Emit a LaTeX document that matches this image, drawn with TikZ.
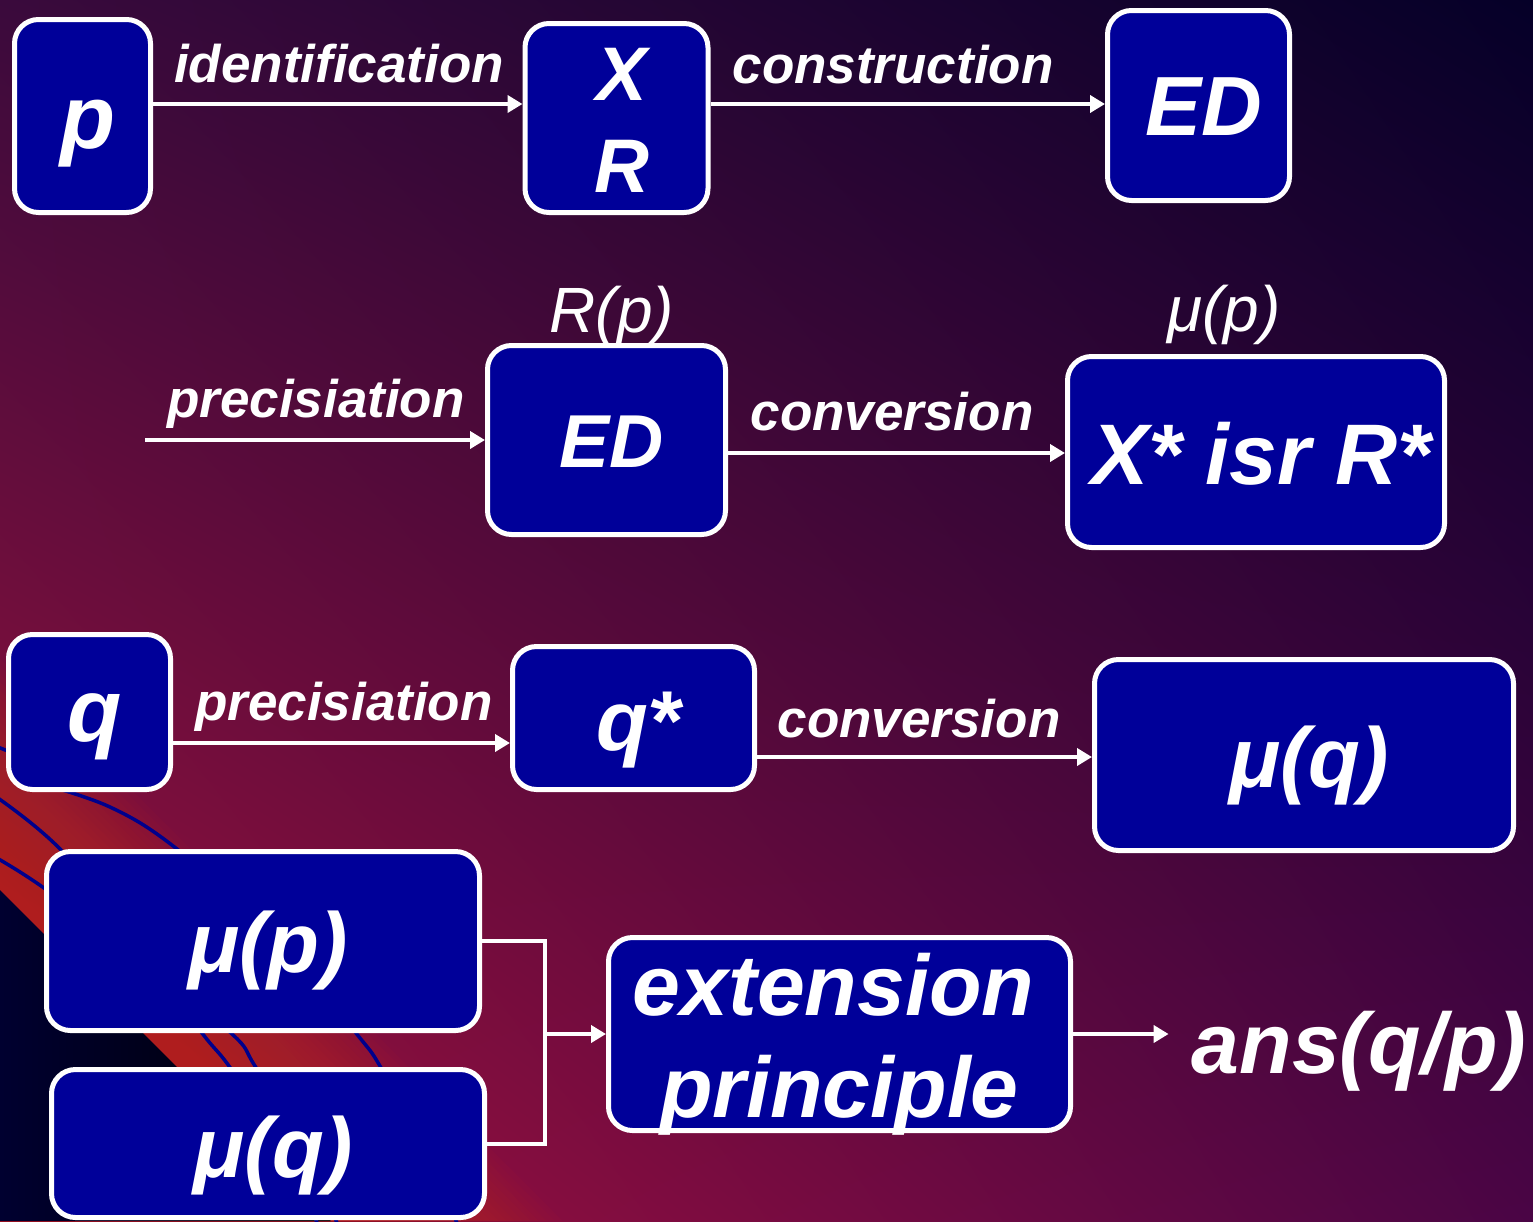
\documentclass[tikz,border=0pt]{standalone}
\usepackage{fontspec}
\setmainfont{Liberation Sans}
\usetikzlibrary{arrows.meta,shadings}
\definecolor{boxblue}{HTML}{000099}
\definecolor{bgTL}{HTML}{3A0A3C}
\definecolor{bgTR}{HTML}{050028}
\definecolor{bgBL}{HTML}{A8123C}
\definecolor{bgBR}{HTML}{4A0545}
\definecolor{bandc}{HTML}{C2301E}
\definecolor{swoosh}{HTML}{00008C}
\definecolor{cornerc}{HTML}{000030}
\newcommand\fsz[1]{\fontsize{#1}{#1}\selectfont}
\newcommand\rz[2]{\raisebox{#1pt}[0pt][0pt]{\kern5pt #2\kern-5pt}}
\begin{document}
\begin{tikzpicture}[x=1pt,y=-1pt,
  box/.style={draw=white, line width=5pt, fill=boxblue, rounded corners=24pt,
    inner sep=0pt, text=white, font=\bfseries\itshape},
  lbl/.style={text=white, inner sep=0pt, font=\bfseries\itshape\fsz{53}},
  sublbl/.style={text=white, inner sep=0pt, font=\itshape\fsz{64}},
  arr/.style={draw=white, line width=4pt, -{Triangle[length=15pt,width=17pt]}},
  wire/.style={draw=white, line width=4pt},
  swl/.style={draw=swoosh, line width=3.5pt, line cap=round}]
\useasboundingbox (0,0) rectangle (1533,1221);
% background
\shade[upper left=bgTL, upper right=bgTR, lower left=bgBL, lower right=bgBR] (0,0) rectangle (1533,1221);
\begin{scope}
\clip (0,0) rectangle (1533,1221);
\foreach \d in {0,8,...,232} {
  \fill[bandc, opacity=0.05] (0,890-\d) -- (331+\d,1221) -- (0,1221) -- cycle;
}
\shade[left color=cornerc, right color=black] (0,890) -- (331,1221) -- (0,1221) -- cycle;
\draw[swl] plot[smooth, tension=0.6] coordinates {(-5,796) (62,851) (140,950) (202,1033) (229,1066) (280,1140) (320,1230)};
\draw[swl] plot[smooth, tension=0.6] coordinates {(-5,857) (44,888) (140,960) (231,1033) (255,1066) (300,1140) (340,1230)};
\draw[swl] plot[smooth, tension=0.6] coordinates {(35,782) (110,807) (177,849) (280,940) (356,1033) (380,1066) (420,1140) (460,1230)};
\draw[swl] plot[smooth, tension=0.6] coordinates {(-5,746) (15,754) (40,766)};
\end{scope}
% row 1
\node[box, minimum width=136pt, minimum height=193pt] (bp) at (82.5,116) {\fsz{90}\rz{-32}{p}};
\node[box, minimum width=183pt, minimum height=189pt] (bxr) at (616.5,118)
  {\fontsize{76}{92}\selectfont\rz{18}{\begin{tabular}[t]{@{}c@{}}X\\R\end{tabular}}};
\node[box, minimum width=182pt, minimum height=190pt] (bed1) at (1198.5,105.5) {\fsz{84}\rz{-29.5}{ED}};
\node[lbl, anchor=base] (lid) at (339,82) {identification};
\node[lbl, anchor=base] (lcon) at (893,83) {construction};
\draw[arr] (bp.east |- 0,104) -- (bxr.west |- 0,104);
\draw[arr] (bxr.east |- 0,104) -- (bed1.west |- 0,104);
% row 2
\coordinate (ps) at (145,440);
\node[box, minimum width=238pt, minimum height=189pt] (bed2) at (606.5,440) {\fsz{75}\rz{-27}{ED}};
\node[box, minimum width=377pt, minimum height=191pt] (bxs) at (1256,452) {\fsz{86}\rz{-32}{X* isr R*}};
\node[sublbl, anchor=base] (lrp) at (612,332) {R(p)};
\node[sublbl, anchor=base] (lmp) at (1224,331) {μ(p)};
\node[lbl, anchor=base] (lpr1) at (316,417) {precisiation};
\node[lbl, anchor=base] (lcv1) at (892,430) {conversion};
\draw[arr] (ps) -- (bed2.west);
\draw[arr] (bed2.east |- 0,453) -- (bxs.west |- 0,453);
% row 3
\node[box, minimum width=162pt, minimum height=155pt] (bq) at (89.5,712) {\fsz{89}\rz{-29}{q}};
\node[box, minimum width=242pt, minimum height=143pt] (bqs) at (633.5,718) {\fsz{85}\rz{-32}{q*}};
\node[box, minimum width=419pt, minimum height=191pt] (bmuq) at (1304,755) {\fsz{85}\rz{-32}{μ(q)}};
\node[lbl, anchor=base] (lpr2) at (344,720) {precisiation};
\node[lbl, anchor=base] (lcv2) at (919,737) {conversion};
\draw[arr] (bq.east |- 0,743) -- (bqs.west |- 0,743);
\draw[arr] (bqs.east |- 0,757) -- (bmuq.west |- 0,757);
% row 4
\node[box, minimum width=433pt, minimum height=179pt] (bmup2) at (263,941) {\fsz{85}\rz{-31}{μ(p)}};
\node[box, minimum width=433pt, minimum height=148pt] (bmuq2) at (268,1143.5) {\fsz{85}\rz{-33.5}{μ(q)}};
\node[box, minimum width=462pt, minimum height=193pt] (bext) at (839.5,1034)
  {\fontsize{86}{102}\selectfont\raisebox{19pt}[0pt][0pt]{\begin{tabular}[t]{@{}c@{}}\kern-12pt extension\\principle\end{tabular}}};
\node[text=white, inner sep=0pt, font=\bfseries\itshape\fsz{86}, anchor=base] (ans) at (1359,1073) {ans(q/p)};
\coordinate (jn) at (545,1034);
\draw[wire] (bmup2.east) -| (jn);
\draw[wire] (bmuq2.east) -| (jn);
\draw[arr] (jn) -- (bext.west);
\draw[arr, shorten >=23pt] (bext.east) -- (bext.east -| ans.west);
\end{tikzpicture}
\end{document}
